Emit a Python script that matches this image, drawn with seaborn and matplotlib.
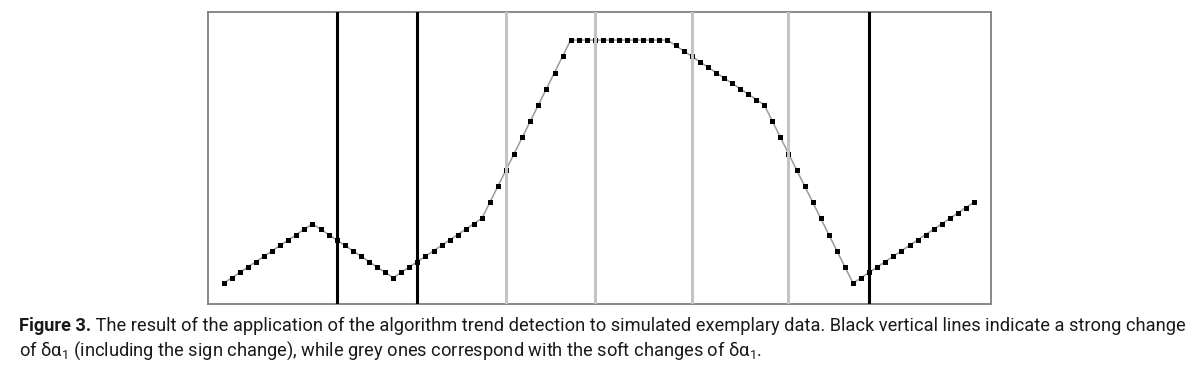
import matplotlib
matplotlib.use("Agg")
import matplotlib.pyplot as plt
import seaborn as sns
import pandas as pd

# Data (index -> value)
sample_index = list(range(94))
trend_values = [0, 1, 2, 3, 4, 5, 6, 7, 8, 9, 10, 11,
                10, 9, 8, 7, 6, 5, 4, 3, 2, 1,
                2, 3, 4, 5, 6, 7, 8, 9, 10, 11, 12,
                15, 18, 21, 24, 27, 30, 33, 36, 39, 42, 45,
                45, 45, 45, 45, 45, 45, 45, 45, 45, 45, 45, 45,
                44, 43, 42, 41, 40, 39, 38, 37, 36, 35, 34, 33,
                30, 27, 24, 21, 18, 15, 12, 9, 6, 3, 0,
                1, 2, 3, 4, 5, 6, 7, 8, 9, 10, 11, 12, 13, 14, 15]
strong_changes = [14, 24, 80]
soft_changes = [35, 46, 58, 70]

caption_bold = "Figure 3."
caption_line1 = " The result of the application of the algorithm trend detection to simulated exemplary data. Black vertical lines indicate a strong change"
caption_line2 = r"of $\mathregular{δα_1}$ (including the sign change), while grey ones correspond with the soft changes of $\mathregular{δα_1}$."

sns.set_theme(style="white")
font = ["Roboto", "DejaVu Sans"]
plt.rcParams["font.family"] = font
plt.rcParams["mathtext.fontset"] = "custom"
plt.rcParams["mathtext.rm"] = "Roboto"
plt.rcParams["mathtext.it"] = "Roboto"

W, H = 1203, 372
fig = plt.figure(figsize=(W / 100, H / 100), dpi=100)
fig.patch.set_facecolor("white")
ax = fig.add_axes([208 / W, 1 - 304 / H, (991 - 208) / W, (304 - 12) / H])

df = pd.DataFrame({"i": sample_index, "v": trend_values})
sns.lineplot(data=df, x="i", y="v", ax=ax, color="#9a9a9a", linewidth=1.1,
             marker="s", markersize=3.6, markerfacecolor="black",
             markeredgecolor="black", markeredgewidth=0, zorder=2)

for xv in strong_changes:
    ax.axvline(xv, color="black", linewidth=2.2, zorder=3)
for xv in soft_changes:
    ax.axvline(xv, color="#c4c4c4", linewidth=2.2, zorder=3)

ax.set_xlim(-1.95, 95.1)
ax.set_ylim(-3.85, 50.2)
ax.set_xticks([])
ax.set_yticks([])
ax.set_xlabel("")
ax.set_ylabel("")
for s in ax.spines.values():
    s.set_visible(True)
    s.set_color("#808080")
    s.set_linewidth(1.3)

txt_color = "#1a1a1a"
x0 = 19
target_right = 1180


def place(fs):
    t1 = fig.text(x0 / W, 1 - 331 / H, caption_bold, fontsize=fs, fontweight="bold",
                  color=txt_color, family=font, va="baseline", ha="left")
    fig.canvas.draw()
    r = fig.canvas.get_renderer()
    bb = t1.get_window_extent(renderer=r)
    t2 = fig.text(bb.x1 / W, 1 - 331 / H, caption_line1, fontsize=fs, color=txt_color,
                  family=font, va="baseline", ha="left")
    t3 = fig.text(x0 / W, 1 - 356 / H, caption_line2, fontsize=fs, color=txt_color,
                  family=font, va="baseline", ha="left")
    fig.canvas.draw()
    right = t2.get_window_extent(renderer=r).x1
    return [t1, t2, t3], right


fs = 12.0
texts, right = place(fs)
for t in texts:
    t.remove()
fs = fs * (target_right - x0) / (right - x0)
place(fs)

fig.savefig("out.png", dpi=100, facecolor="white")
